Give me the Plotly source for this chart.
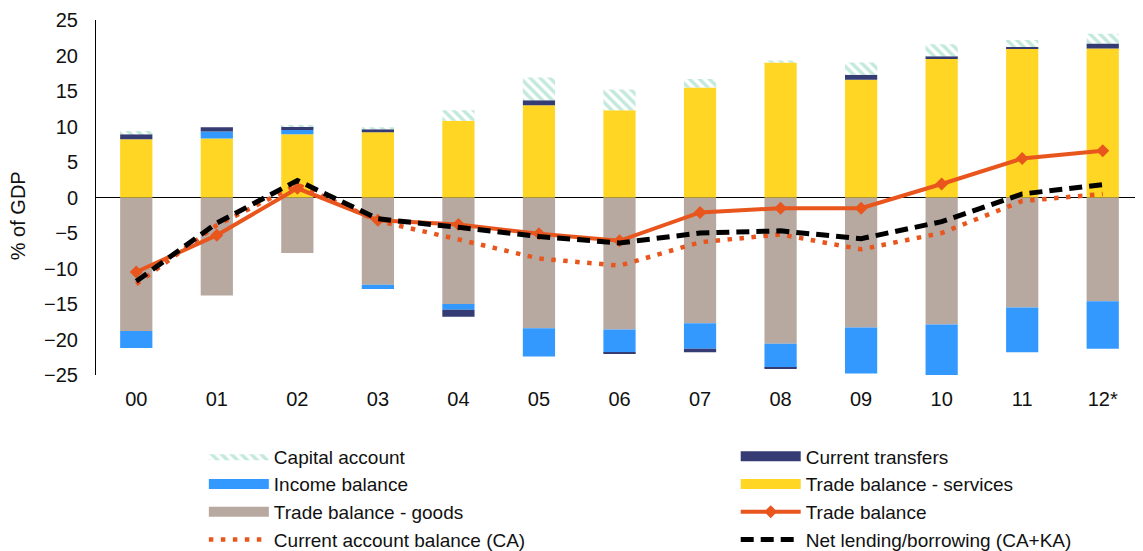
import plotly.graph_objects as go

years = ["00", "01", "02", "03", "04", "05", "06", "07", "08", "09", "10", "11", "12*"]

capital_account = [0.45, 0.0, 0.1, 0.3, 1.5, 3.2, 2.9, 1.2, 0.3, 1.7, 1.7, 1.0, 1.35]
current_transfers = [0.7, 0.6, 0.5, 0.4, -1.0, 0.7, -0.2, -0.5, -0.1, 0.7, 0.4, 0.3, 0.7]
income_balance = [-2.4, 1.0, 0.6, -0.6, -0.8, -4.0, -3.25, -3.6, -3.4, -6.5, -7.2, -6.3, -6.7]
services_balance = [8.2, 8.3, 8.9, 9.2, 10.8, 13.0, 12.3, 15.5, 19.0, 16.6, 19.5, 20.9, 21.0]
goods_balance = [-18.8, -13.8, -7.8, -12.3, -15.0, -18.4, -18.6, -17.7, -20.6, -18.3, -17.9, -15.5, -14.6]
trade_balance = [-10.5, -5.3, 1.3, -3.2, -3.8, -5.1, -6.1, -2.1, -1.5, -1.5, 1.9, 5.5, 6.6]
current_account = [-12.2, -3.9, 1.8, -3.3, -5.9, -8.6, -9.6, -6.3, -5.2, -7.3, -5.0, -0.5, 0.5]
net_lending = [-11.8, -3.6, 2.4, -3.0, -4.2, -5.5, -6.4, -5.0, -4.7, -5.8, -3.4, 0.5, 1.8]

FONT = "Liberation Sans, Arial, sans-serif"
ORANGE = "#E8561E"
GOODS = "#B7A8A0"
SERV = "#FFD624"
INCOME = "#3399FF"
TRANSF = "#353B73"
HATCH = "#86D3B8"
HATCH_PATTERN = dict(shape="\\", fgcolor=HATCH, bgcolor="white", size=7, solidity=0.5)

fig = go.Figure()

# stacked bars (legend shown via wide-swatch proxies below)
fig.add_bar(x=years, y=goods_balance, name="Trade balance - goods",
            marker=dict(color=GOODS, line=dict(width=0)), showlegend=False)
fig.add_bar(x=years, y=services_balance, name="Trade balance - services",
            marker=dict(color=SERV, line=dict(width=0)), showlegend=False)
fig.add_bar(x=years, y=income_balance, name="Income balance",
            marker=dict(color=INCOME, line=dict(width=0)), showlegend=False)
fig.add_bar(x=years, y=current_transfers, name="Current transfers",
            marker=dict(color=TRANSF, line=dict(width=0)), showlegend=False)
fig.add_bar(x=years, y=capital_account, name="Capital account",
            marker=dict(color="white", line=dict(width=0),
                        pattern=dict(fillmode="overlay", **HATCH_PATTERN)),
            showlegend=False)

fig.add_scatter(x=years, y=trade_balance, name="Trade balance", mode="lines+markers",
                line=dict(color=ORANGE, width=4),
                marker=dict(symbol="diamond", size=10, color=ORANGE),
                legend="legend2", legendrank=3)
fig.add_scatter(x=years, y=current_account, name="Current account balance (CA)", mode="lines",
                line=dict(color=ORANGE, width=4.5, dash="4.5px,7.5px"),
                legend="legend", legendrank=4)
fig.add_scatter(x=years, y=net_lending, name="Net lending/borrowing (CA+KA)", mode="lines",
                line=dict(color="black", width=5, dash="13px,7px"),
                legend="legend2", legendrank=4)

# legend swatches for the bar series (wide rectangles as in the original)
fig.add_scatter(x=[None], y=[None], mode="lines", name="Capital account",
                fill="toself", fillcolor="white", fillpattern=HATCH_PATTERN,
                line=dict(width=0, color=HATCH), legend="legend", legendrank=1,
                hoverinfo="skip")
for nm, col, lg, rk in [("Income balance", INCOME, "legend", 2),
                        ("Trade balance - goods", GOODS, "legend", 3),
                        ("Current transfers", TRANSF, "legend2", 1),
                        ("Trade balance - services", SERV, "legend2", 2)]:
    fig.add_scatter(x=[None], y=[None], mode="lines", name=nm,
                    line=dict(color=col, width=12), legend=lg, legendrank=rk,
                    hoverinfo="skip")

legend_common = dict(orientation="v", yanchor="top", xanchor="left",
                     traceorder="normal", bgcolor="rgba(0,0,0,0)",
                     font=dict(family=FONT, size=19, color="#111111"),
                     itemwidth=60, itemclick=False, itemdoubleclick=False)

fig.update_layout(
    width=1143, height=551,
    margin=dict(l=88, r=8, t=12, b=184, autoexpand=False),
    barmode="relative", bargap=0.6,
    plot_bgcolor="white", paper_bgcolor="white",
    font=dict(family=FONT, size=20, color="#111111"),
    legend=dict(x=0.103, y=-0.176, **legend_common),
    legend2=dict(x=0.611, y=-0.176, **legend_common),
    xaxis=dict(type="category", range=[-0.5, 12.5], showline=False, showgrid=False,
               ticks="", ticklabelstandoff=10, tickfont=dict(size=20)),
    yaxis=dict(range=[-25, 25], dtick=5, showline=True, linecolor="black", linewidth=1,
               showgrid=False, zeroline=True, zerolinecolor="black", zerolinewidth=1,
               ticks="", ticklabelstandoff=13, tickfont=dict(size=20)),
    annotations=[dict(text="% of GDP", textangle=-90, xref="paper", yref="paper",
                      x=-0.0745, y=0.45, xanchor="center", yanchor="middle",
                      showarrow=False, font=dict(size=20))],
)

fig.write_html("out.html")
